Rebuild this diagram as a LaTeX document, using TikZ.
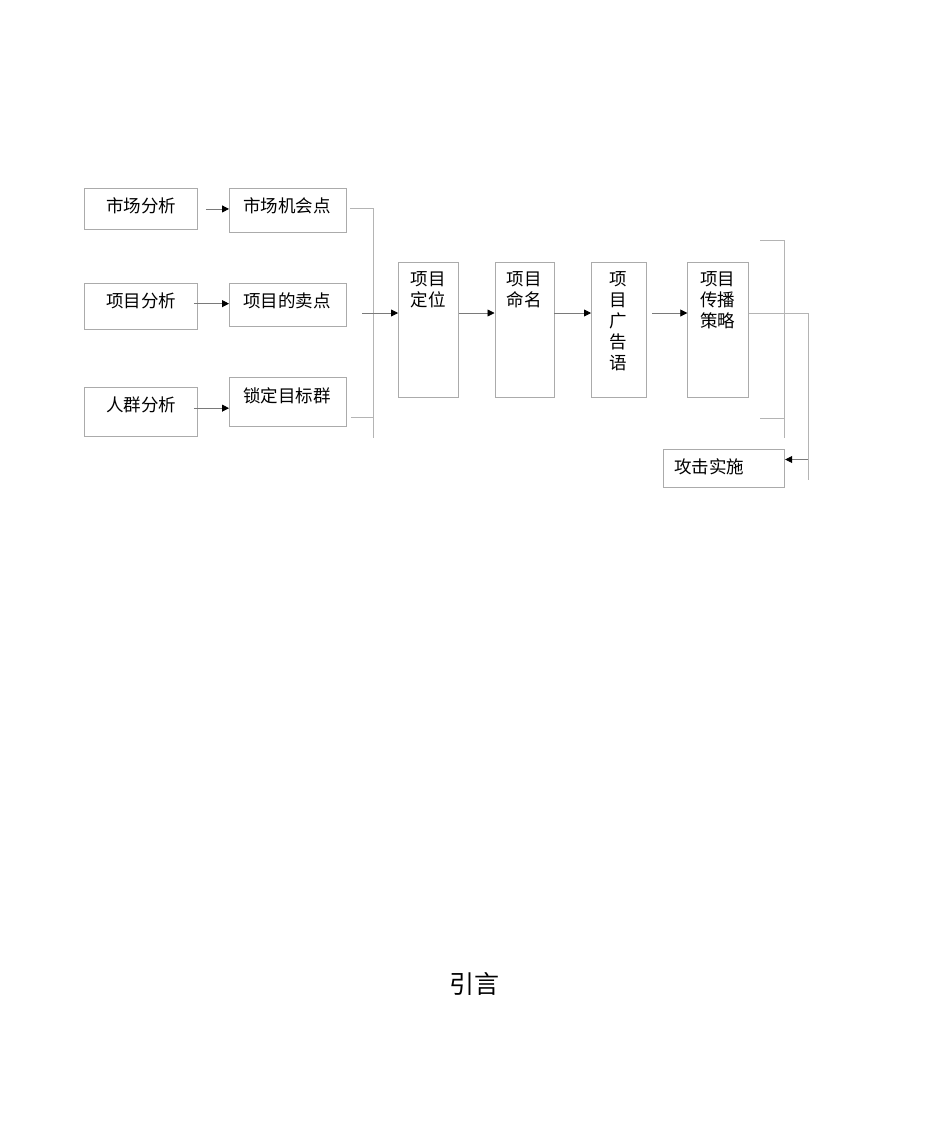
\documentclass[tikz,border=0pt]{standalone}
\usepackage{fontspec}
\newfontfamily\cjk{Noto Sans CJK SC}
\usetikzlibrary{arrows.meta,calc}
\definecolor{boxgray}{HTML}{ABABAB}
\definecolor{linegray}{HTML}{B4B4B4}
\definecolor{arrgray}{HTML}{7A7A7A}
\tikzset{
  box/.style={draw=boxgray, line width=0.9pt, inner sep=0pt, anchor=north west},
  txt/.style={font=\cjk\fontsize{17.5}{21}\selectfont, inner sep=0pt, align=center},
  conn/.style={draw=linegray, line width=0.9pt},
  arr/.style={draw=arrgray, line width=0.8pt, -{Triangle[length=7pt,width=7pt,color=black]}},
}
\begin{document}
\begin{tikzpicture}[x=1pt,y=-1pt]
\useasboundingbox (0,0) rectangle (950,1129);
% left column
\node[box, minimum width=113pt, minimum height=41pt] (a1) at (84,188) {};
\node[box, minimum width=113pt, minimum height=46pt] (a2) at (84,283) {};
\node[box, minimum width=113pt, minimum height=49pt] (a3) at (84,387) {};
\node[txt] (ta1) at (141,206) {市场分析};
\node[txt] (ta2) at (141,301) {项目分析};
\node[txt] (ta3) at (141,405) {人群分析};
% second column
\node[box, minimum width=117pt, minimum height=44pt] (b1) at (229,188) {};
\node[box, minimum width=117pt, minimum height=43pt] (b2) at (229,283) {};
\node[box, minimum width=117pt, minimum height=49pt] (b3) at (229,377) {};
\node[txt] (tb1) at (287,206) {市场机会点};
\node[txt] (tb2) at (287,301) {项目的卖点};
\node[txt] (tb3) at (287,396) {锁定目标群};
% tall boxes
\node[box, minimum width=60pt, minimum height=135pt] (c1) at (398,262) {};
\node[box, minimum width=59pt, minimum height=135pt] (c2) at (494.5,262) {};
\node[box, minimum width=54.5pt, minimum height=135pt] (c3) at (591,262) {};
\node[box, minimum width=60.5pt, minimum height=135pt] (c4) at (687.3,262) {};
\node[txt, anchor=north] (tc1) at (428,271) {项目\\定位};
\node[txt, anchor=north] (tc2) at (524,271) {项目\\命名};
\node[txt, anchor=north] (tc3) at (618.3,271) {项\\目\\广\\告\\语};
\node[txt, anchor=north] (tc4) at (717.5,271) {项目\\传播\\策略};
% final box
\node[box, minimum width=121pt, minimum height=38pt] (d) at (663.3,449) {};
\node[txt] (td) at (709,467) {攻击实施};
% title
\node[font=\cjk\fontsize{25}{28}\selectfont, inner sep=0pt] (title) at (474,984) {引言};
% junction coordinates
\coordinate (j1) at (373,208);
\coordinate (j2) at (373,438);
\coordinate (j3) at (373,417);
\coordinate (in1) at (362,313);
\coordinate (k1) at (808,313);
\coordinate (k2) at (808,480);
\coordinate (k3) at (808,459.5);
\coordinate (r1) at (760,240);
\coordinate (r2) at (784,240);
\coordinate (r3) at (784,438);
\coordinate (r4) at (760,418);
\coordinate (r5) at (784,418);
% arrows left
\draw[arr] ($(a1.east)+(8,0)$) -- ($(a1.east -| b1.west)$);
\draw[arr] ($(a2.east)+(-4,-2.8)$) -- ($(a2.east -| b2.west)+(0,-2.8)$);
\draw[arr] ($(a3.east)+(-4,-3.8)$) -- ($(a3.east -| b3.west)+(0,-3.8)$);
% collector
\draw[conn] ($(b1.east |- j1)+(3,0)$) -- (j1) -- (j2);
\draw[conn] ($(b3.east |- j3)+(4,0)$) -- (j3);
\draw[arr] (in1) -- (in1 -| c1.west);
\draw[arr] (c1.east |- in1) -- (c2.west |- in1);
\draw[arr] (c2.east |- in1) -- (c3.west |- in1);
\draw[arr] ($(c3.east |- in1)+(6,0)$) -- (c4.west |- in1);
% output
\draw[conn] (c4.east |- k1) -- (k1) -- (k2);
\draw[arr] (k3) -- (k3 -| d.east);
% bracket
\draw[conn] (r1) -- (r2) -- (r3);
\draw[conn] (r4) -- (r5);
\end{tikzpicture}
\end{document}
